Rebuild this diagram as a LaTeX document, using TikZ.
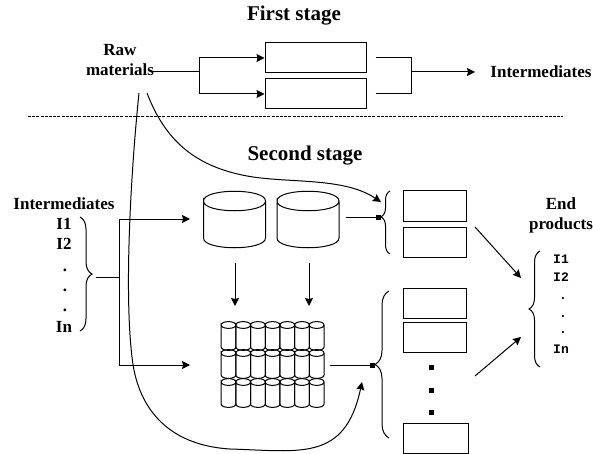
\documentclass[tikz,border=0pt]{standalone}
\usepackage{fontspec}
\setmainfont{Liberation Serif}
\newfontfamily\listfont{Liberation Mono}
\usepackage{tikz}
\usetikzlibrary{arrows.meta,positioning,decorations.pathreplacing}
\tikzset{
    >={Stealth[length=8pt,width=8pt,inset=1pt]},
    unit/.style={draw,line width=1pt,minimum width=101pt,minimum height=30pt,inner sep=0pt},
    product/.style={draw,line width=1pt,minimum width=63pt,minimum height=30pt,inner sep=0pt},
    pics/drum/.style args={#1/#2/#3}{code={
        \draw (-#1,0) .. controls (-#1,-#3) and (#1,-#3) .. (#1,0)
            .. controls (#1,#3) and (-#1,#3) .. (-#1,0)
            -- (-#1,#2) .. controls (-#1,#2+#3) and (#1,#2+#3) .. (#1,#2) -- (#1,0);
    }},
    title/.style={font=\bfseries\fontsize{21}{21}\selectfont,inner sep=0pt},
    label/.style={font=\bfseries\fontsize{17}{20}\selectfont,inner sep=0pt,align=center},
    item/.style={font=\listfont\bfseries\fontsize{13}{13}\selectfont,inner sep=0pt},
    blob/.style={fill,minimum size=5pt,inner sep=0pt},
    bracket/.style={decorate,line width=1pt,decoration={brace,amplitude=#1}}
}
\begin{document}
\begin{tikzpicture}[x=1pt,y=-1pt,line width=1pt,node distance=36pt,on grid]
    \useasboundingbox (0,0) rectangle (593,454);
    % first stage
    \node[title] (first) at (294,16) {First stage};
    \node[label] (raw) at (120,60) {Raw\\materials};
    \node[unit] (unit_a) at (315.5,58) {};
    \node[unit] (unit_b) [below=of unit_a] {};
    \node[label] (inter_top) at (541,72) {Intermediates};
    \coordinate (raw_out) at (153,72);
    \coordinate (split) at (199,72);
    \coordinate (merge) at (411,72);
    \coordinate (merge_out) at (475,72);
    \draw (raw_out) -- (split);
    \draw[->] (split) |- (unit_a.west);
    \draw[->] (split) |- (unit_b.west);
    \draw[shorten <=9pt] (unit_a.east) -| (merge);
    \draw[shorten <=9pt] (unit_b.east) -| (merge);
    \draw[->] (merge) -- (merge_out);
    % separator
    \coordinate (sep_l) at (28,117);
    \coordinate (sep_r) at (563,117);
    \draw[dash pattern=on 3pt off 1.2pt] (sep_l) -- (sep_r);
    % second stage
    \node[title] (second) at (305,156) {Second stage};
    \node[label] (inter) at (64,204) {Intermediates};
    \node[label] (i_1) at (64,224) {I1};
    \node[label] (i_2) at (64,244) {I2};
    \foreach \y/\n in {270/a,290/b,310/c}
        \node[label] (dot_\n) at (65,\y) {.};
    \node[label] (i_n) at (64,327) {In};
    \pic at (234.5,201) {drum=31/37/13};
    \pic at (308,201) {drum=31/37/13};
    % tube bank
    \foreach \y in {325,353,382}
        \foreach \c in {1,...,7}
            \pic at ({228.5+(\c-1)*14.7},\y) {drum=7.35/22/4.5};
    \coordinate (tank_a) at (235,263);
    \coordinate (tank_b) at (309,263);
    \coordinate (bank_n) at (235,306);
    \coordinate (bank_m) at (309,306);
    \draw[->] (tank_a) -- (bank_n);
    \draw[->] (tank_b) -- (bank_m);
    % products
    \node[product] (prod_a) at (434.5,206) {};
    \node[product] (prod_b) [below=of prod_a] {};
    \node[product] (prod_c) at (434.5,303) {};
    \node[product] (prod_d) [below=of prod_c,yshift=2pt] {};
    \foreach \y/\n in {367/a,390/b,412/c}
        \node[blob] (more_\n) at (431,\y) {};
    \node[product,minimum width=65pt] (prod_e) at (435.5,438) {};
    \node[label] (end) at (561,215) {End\\products};
    \node[item] (e_1) at (561,259) {I1};
    \node[item] (e_2) at (561,277) {I2};
    \foreach \y/\n in {299/a,317/b,333/c}
        \node[item] (edot_\n) at (563,\y) {.};
    \node[item] (e_n) at (561,349) {In};
    % braces
    \coordinate (br_in_t) at (80,217);
    \coordinate (br_in_b) at (80,331);
    \coordinate (br_a_b) at (390,254);
    \coordinate (br_a_t) at (390,191);
    \coordinate (br_b_b) at (389,438);
    \coordinate (br_b_t) at (389,291);
    \coordinate (br_e_b) at (540,367);
    \coordinate (br_e_t) at (540,251);
    \draw[bracket=12pt] (br_in_t) -- (br_in_b);
    \draw[bracket=9pt,decoration={aspect=0.59}] (br_a_b) -- (br_a_t);
    \draw[bracket=14pt] (br_b_b) -- (br_b_t);
    \draw[bracket=11pt] (br_e_b) -- (br_e_t);
    % feeds
    \coordinate (in_out) at (96,277);
    \coordinate (feed) at (119,277);
    \coordinate (feed_a) at (190,219);
    \coordinate (feed_b) at (190,365);
    \draw (in_out) -- (feed);
    \draw[->] (feed) |- (feed_a);
    \draw[->] (feed) |- (feed_b);
    \coordinate (tank_out) at (346,217);
    \coordinate (tank_in) at (381,217);
    \coordinate (bank_out) at (330,365);
    \coordinate (bank_in) at (375,365);
    \draw[-{Square[length=5pt,width=5pt]}] (tank_out) -- (tank_in);
    \draw[-{Square[length=5pt,width=5pt]}] (bank_out) -- (bank_in);
    % raw material curves
    \coordinate (raw_a) at (147,93);
    \coordinate (raw_b) at (139,93);
    \coordinate (raw_a_in) at (381,202);
    \coordinate (raw_b_in) at (362,382);
    \draw[->] (raw_a) .. controls (165,140) and (195,168) .. (253,177)
        .. controls (295,183) and (345,178) .. (raw_a_in);
    \draw[->] (raw_b) .. controls (131,170) and (124,290) .. (132,357)
        .. controls (137,405) and (165,445) .. (230,449)
        .. controls (300,451) and (345,462) .. (raw_b_in);
    % to end products
    \coordinate (out_a) at (475,227);
    \coordinate (out_b) at (475,376);
    \coordinate (end_a) at (521,278);
    \coordinate (end_b) at (521,337);
    \draw[->] (out_a) -- (end_a);
    \draw[->] (out_b) -- (end_b);
\end{tikzpicture}
\end{document}
